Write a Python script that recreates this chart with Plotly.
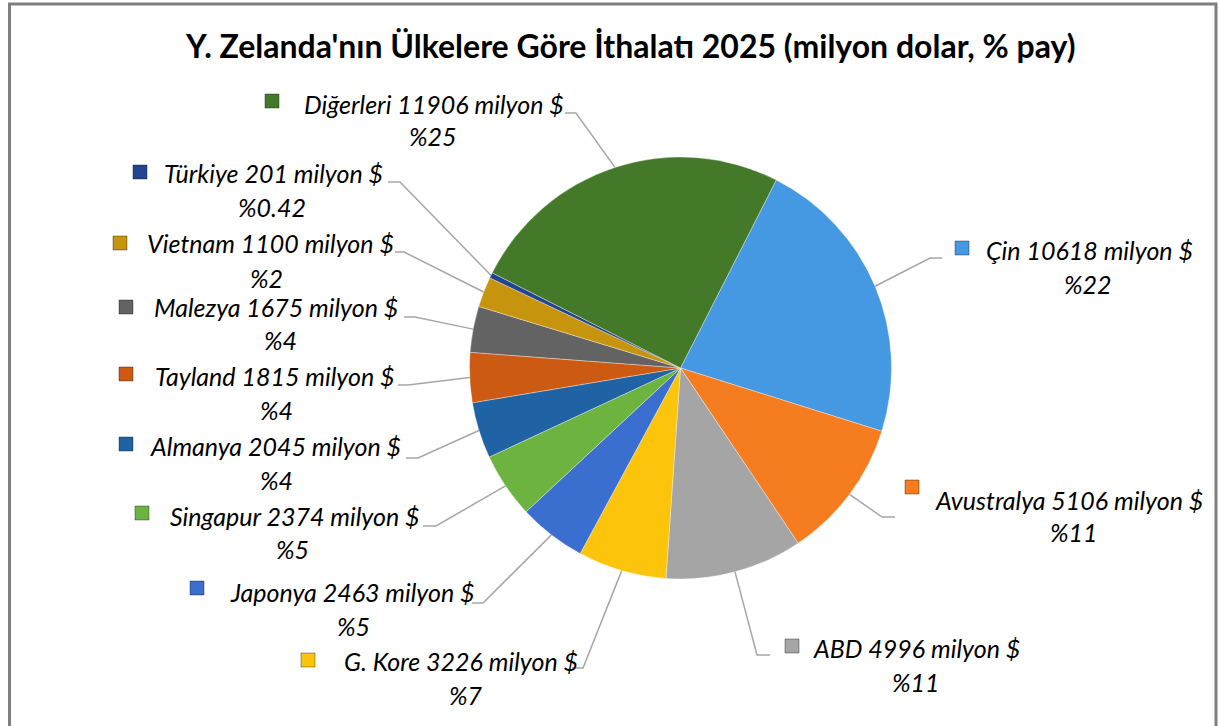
import math
import plotly.graph_objects as go

# ---------------- data ----------------
countries = ["Çin", "Avustralya", "ABD", "G. Kore", "Japonya", "Singapur",
             "Almanya", "Tayland", "Malezya", "Vietnam", "Türkiye", "Diğerleri"]
values = [10618, 5106, 4996, 3226, 2463, 2374, 2045, 1815, 1675, 1100, 201, 11906]
pct_labels = ["%22", "%11", "%11", "%7", "%5", "%5", "%4", "%4", "%4", "%2", "%0.42", "%25"]
title_text = "Y. Zelanda'nın Ülkelere Göre İthalatı 2025 (milyon dolar, % pay)"

# ---------------- styles / layout ----------------
colors = ["#4599e3", "#f57c1f", "#a5a5a5", "#fcc40a", "#3a6fcf", "#6cb33f",
          "#1f63a5", "#cc5a12", "#636363", "#c7950d", "#23448e", "#45792a"]
W, H = 1219, 726
CX, CY, R = 680.5, 368.0, 211.0
ROT = 27.0

def px(x):
    return x / W

def py(y):
    return 1 - y / H

# label layout: text-left x, line1 y, line2 center x, line2 y, square center (x, y),
# leader start point and elbow x
label_layout = {
    "Çin":        dict(tx=984, ty=250, px2=1088, py2=284, sq=(962, 248), ls=(942, 258), el=930),
    "Avustralya": dict(tx=933, ty=500, px2=1074, py2=532, sq=(912, 487), ls=(895, 517), el=882),
    "ABD":        dict(tx=811, ty=648, px2=916, py2=682, sq=(792, 646), ls=(770, 655), el=757),
    "G. Kore":    dict(tx=342, ty=661, px2=466, py2=695, sq=(308, 660), ls=(572, 668), el=583),
    "Japonya":    dict(tx=228, ty=592, px2=354, py2=626, sq=(197, 588), ls=(472, 603), el=483),
    "Singapur":   dict(tx=168, ty=516, px2=292, py2=549, sq=(142, 513), ls=(423, 526), el=436),
    "Almanya":    dict(tx=148, ty=446, px2=276, py2=480, sq=(126, 444), ls=(406, 458), el=418),
    "Tayland":    dict(tx=153, ty=376, px2=276, py2=410, sq=(126, 374), ls=(398, 385), el=408),
    "Malezya":    dict(tx=152, ty=307, px2=280, py2=340, sq=(126, 307), ls=(404, 317), el=415),
    "Vietnam":    dict(tx=145, ty=243, px2=266, py2=278, sq=(120, 243), ls=(395, 252), el=404),
    "Türkiye":    dict(tx=162, ty=173, px2=272, py2=207, sq=(140, 172), ls=(388, 182), el=400),
    "Diğerleri":  dict(tx=302, ty=104, px2=433, py2=136, sq=(272, 101), ls=(565, 113), el=576),
}

FONT = "Lato"
label_font = dict(family=FONT, size=25, color="black")

fig = go.Figure()
fig.add_trace(go.Pie(
    labels=countries, values=values, sort=False, direction="clockwise",
    rotation=ROT, textinfo="none", hoverinfo="label+value+percent",
    marker=dict(colors=colors, line=dict(color="rgba(255,255,255,0.35)", width=1)),
    domain=dict(x=[px(CX - R), px(CX + R)], y=[py(CY + R), py(CY - R)]),
    showlegend=False,
))

annotations = []
shapes = []
total = sum(values)
cum = 0.0
for name, v, pct, col in zip(countries, values, pct_labels, colors):
    mid = ROT + (cum + v / 2) / total * 360.0
    cum += v
    a = math.radians(mid)
    ex, ey = CX + R * math.sin(a), CY - R * math.cos(a)
    L = label_layout[name]
    annotations.append(dict(
        x=px(L["tx"]), y=py(L["ty"]), xref="paper", yref="paper",
        text=f"<i>{name} {v} milyon $</i>", showarrow=False,
        xanchor="left", yanchor="middle", font=label_font))
    annotations.append(dict(
        x=px(L["px2"]), y=py(L["py2"]), xref="paper", yref="paper",
        text=f"<i>{pct}</i>", showarrow=False,
        xanchor="center", yanchor="middle", font=label_font))
    sx, sy = L["sq"]
    shapes.append(dict(type="rect", xref="paper", yref="paper",
                       x0=px(sx - 7), x1=px(sx + 7), y0=py(sy + 7), y1=py(sy - 7),
                       fillcolor=col, line=dict(color="rgba(0,0,0,0.35)", width=1)))
    lx, ly = L["ls"]
    path = (f"M {px(lx)} {py(ly)} L {px(L['el'])} {py(ly)} L {px(ex)} {py(ey)}")
    shapes.append(dict(type="path", xref="paper", yref="paper", path=path,
                       line=dict(color="#a6a6a6", width=1.5)))

# frame
shapes.append(dict(type="rect", xref="paper", yref="paper",
                   x0=px(9.5), x1=px(1216), y0=py(760), y1=py(4),
                   line=dict(color="#7f7f7f", width=3), fillcolor="rgba(0,0,0,0)"))

annotations.append(dict(
    x=px(631), y=py(45), xref="paper", yref="paper", showarrow=False,
    text=f"<b>{title_text}</b>", xanchor="center", yanchor="middle",
    font=dict(family=FONT, size=32, color="black")))

fig.update_layout(
    width=W, height=H, margin=dict(l=0, r=0, t=0, b=0),
    paper_bgcolor="white", plot_bgcolor="white",
    annotations=annotations, shapes=shapes,
)

fig.write_html("out.html", config={"displayModeBar": False},
               post_script="document.body.style.margin='0';")
